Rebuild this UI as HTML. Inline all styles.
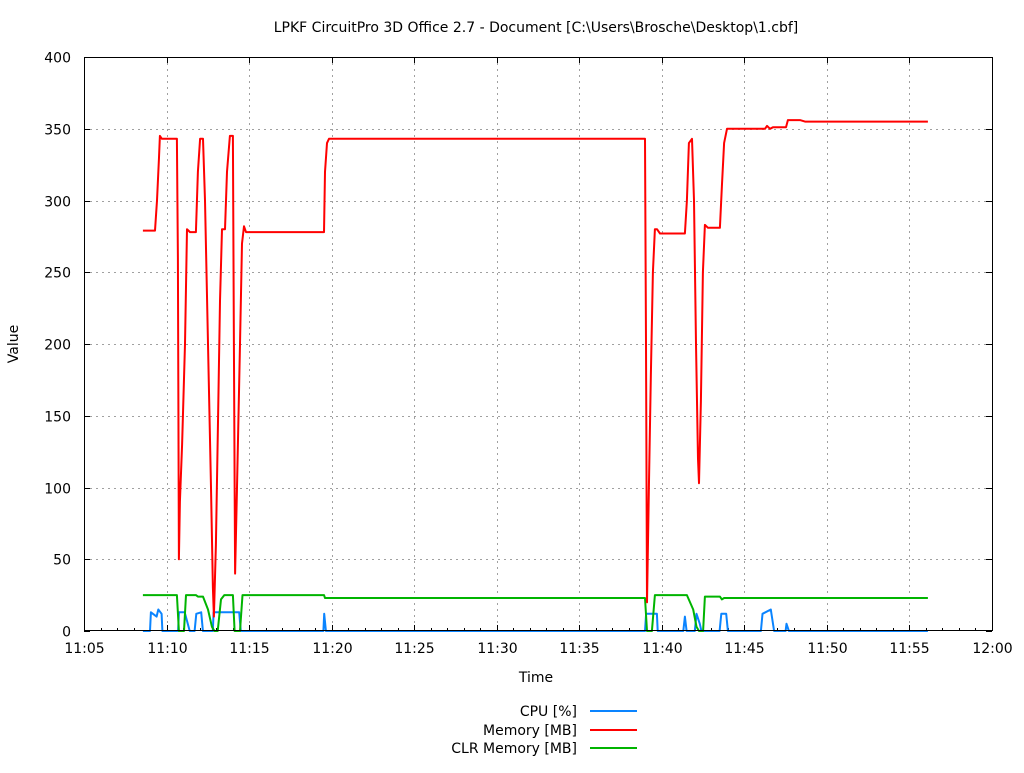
<!DOCTYPE html>
<html><head><meta charset="utf-8"><style>
body{margin:0;background:#fff;}
svg text{font-family:"DejaVu Sans","Liberation Sans",sans-serif;font-size:14px;fill:#000;}
</style></head><body>
<svg id="chart" width="1024" height="768" xmlns="http://www.w3.org/2000/svg">
<text x="536" y="32" text-anchor="middle">LPKF CircuitPro 3D Office 2.7 - Document [C:\Users\Brosche\Desktop\1.cbf]</text>
<text transform="translate(18,344) rotate(-90)" text-anchor="middle">Value</text>
<text x="536" y="682" text-anchor="middle">Time</text>
<g id="grid"></g>
<g id="ticks"></g>
<g id="series"></g>
<rect x="84.5" y="57.5" width="908" height="573" fill="none" stroke="#000" stroke-width="1"/>
<g id="legend"></g>
</svg>
<script>
const xTickLabels=["11:05","11:10","11:15","11:20","11:25","11:30","11:35","11:40","11:45","11:50","11:55","12:00"];
const xTickMinutes=[5,10,15,20,25,30,35,40,45,50,55,60];
const yTicks=[0,50,100,150,200,250,300,350,400];
const seriesNames=["CPU [%]","Memory [MB]","CLR Memory [MB]"];
const seriesColors=["#0a84ff","#ff0000","#00b400"];
const memT=[8.57,9.30,9.42,9.54,9.60,9.72,10.63,10.69,10.75,10.81,10.94,11.12,11.24,11.42,11.78,11.90,12.03,12.21,12.33,12.51,12.69,12.81,12.87,12.99,13.12,13.24,13.36,13.54,13.66,13.84,14.02,14.08,14.15,14.27,14.45,14.57,14.69,14.81,19.54,19.60,19.72,19.84,38.98,39.04,39.10,39.22,39.34,39.46,39.58,39.71,39.89,41.40,41.52,41.64,41.83,41.95,42.07,42.19,42.25,42.37,42.49,42.61,42.80,43.52,43.64,43.77,43.95,46.25,46.37,46.55,46.73,47.52,47.64,48.37,48.67,56.12];
const memV=[279,279,300,330,345,343,343,260,50,90,130,200,280,278,278,320,343,343,300,200,100,30,10,60,150,230,280,280,320,345,345,200,40,100,200,270,282,278,278,320,340,343,343,200,20,100,180,250,280,280,277,277,300,340,343,300,200,120,103,160,250,283,281,281,310,340,350,350,352,350,351,351,356,356,355,355];
const clrT=[8.57,10.63,10.75,11.06,11.18,11.78,11.90,12.21,12.51,12.75,12.9,13.1,13.3,13.5,14.02,14.12,14.45,14.6,19.54,19.6,38.98,39.1,39.4,39.58,41.52,41.9,42.1,42.25,42.5,42.61,43.52,43.64,43.77,56.12];
const clrV=[25,25,0,0,25,25,24,24,15,3,0,0,22,25,25,0,0,25,25,23,23,0,0,25,25,15,3,0,0,24,24,22,23,23];
const cpuT=[8.57,9.0,9.05,9.4,9.5,9.7,9.75,10.7,10.75,11.1,11.4,11.7,11.8,12.1,12.2,12.8,12.85,14.4,14.5,19.5,19.55,19.65,38.98,39.05,39.7,39.75,41.3,41.4,41.5,42.0,42.1,42.3,42.4,43.5,43.6,43.9,44,46.0,46.1,46.6,46.8,47.5,47.55,47.7,56.12];
const cpuV=[0,0,13,10,15,12,0,0,13,13,0,0,12,13,0,0,13,13,0,0,12,0,0,12,12,0,0,10,0,0,12,5,0,0,12,12,0,0,12,15,0,0,5,0,0];

const X0=84,X1=992,Y0=631,Y1=57;
const xs=m=>X0+(m-5)/55*(X1-X0);
const ys=v=>Y0-v/400*(Y0-Y1);
const NS="http://www.w3.org/2000/svg";
function mk(tag,attrs,parent){const e=document.createElementNS(NS,tag);for(const k in attrs)e.setAttribute(k,attrs[k]);parent.appendChild(e);return e;}
const grid=document.getElementById('grid'),ticks=document.getElementById('ticks'),series=document.getElementById('series'),legend=document.getElementById('legend');
yTicks.forEach(v=>{
  const y=Math.round(ys(v))+0.5;
  if(v>0&&v<400){const g=mk('line',{x1:X0,x2:X1,y1:y,y2:y,stroke:'#a0a0a0','stroke-dasharray':'2,4'},grid);
  
  }
  const t=mk('text',{x:X0-13,y:y+5,'text-anchor':'end'},ticks);t.textContent=v;
  
  
  mk('line',{x1:X0,x2:X0+6,y1:y,y2:y,stroke:'#000'},ticks);
  mk('line',{x1:X1-6,x2:X1,y1:y,y2:y,stroke:'#000'},ticks);
});
xTickMinutes.forEach((m,i)=>{
  const x=Math.round(xs(m))+0.5;
  if(i>0&&i<xTickMinutes.length-1){const g=mk('line',{x1:x,x2:x,y1:Y1,y2:Y0,stroke:'#a0a0a0','stroke-dasharray':'2,4'},grid);
  
  }
  const t=mk('text',{x:x,y:Y0+22,'text-anchor':'middle'},ticks);t.textContent=xTickLabels[i];
  
  
  mk('line',{x1:x,x2:x,y1:Y0-6,y2:Y0,stroke:'#000'},ticks);
  mk('line',{x1:x,x2:x,y1:Y1,y2:Y1+6,stroke:'#000'},ticks);
});
for(let m=6;m<60;m++){if(m%5===0)continue;const x=Math.round(xs(m))+0.5;mk('line',{x1:x,x2:x,y1:Y0-3,y2:Y0,stroke:'#000'},ticks);}
function draw(T,V,color,name){
  const d=T.map((t,i)=>(i?'L':'M')+xs(t).toFixed(1)+','+ys(V[i]).toFixed(1)).join(' ');
  const p=mk('path',{d:d,fill:'none',stroke:color,'stroke-width':2,'stroke-linejoin':'round'},series);
  
  
}
draw(cpuT,cpuV,seriesColors[0],'cpu-line');
draw(clrT,clrV,seriesColors[2],'clr-memory-line');
draw(memT,memV,seriesColors[1],'memory-line');
const legY=[711,730,748];
seriesNames.forEach((n,i)=>{
  const t=mk('text',{x:577,y:legY[i]+5,'text-anchor':'end'},legend);t.textContent=n;
  
  
  const l=mk('line',{x1:590,x2:637,y1:legY[i],y2:legY[i],stroke:seriesColors[i],'stroke-width':2},legend);
  
  
});
</script>
</body></html>
